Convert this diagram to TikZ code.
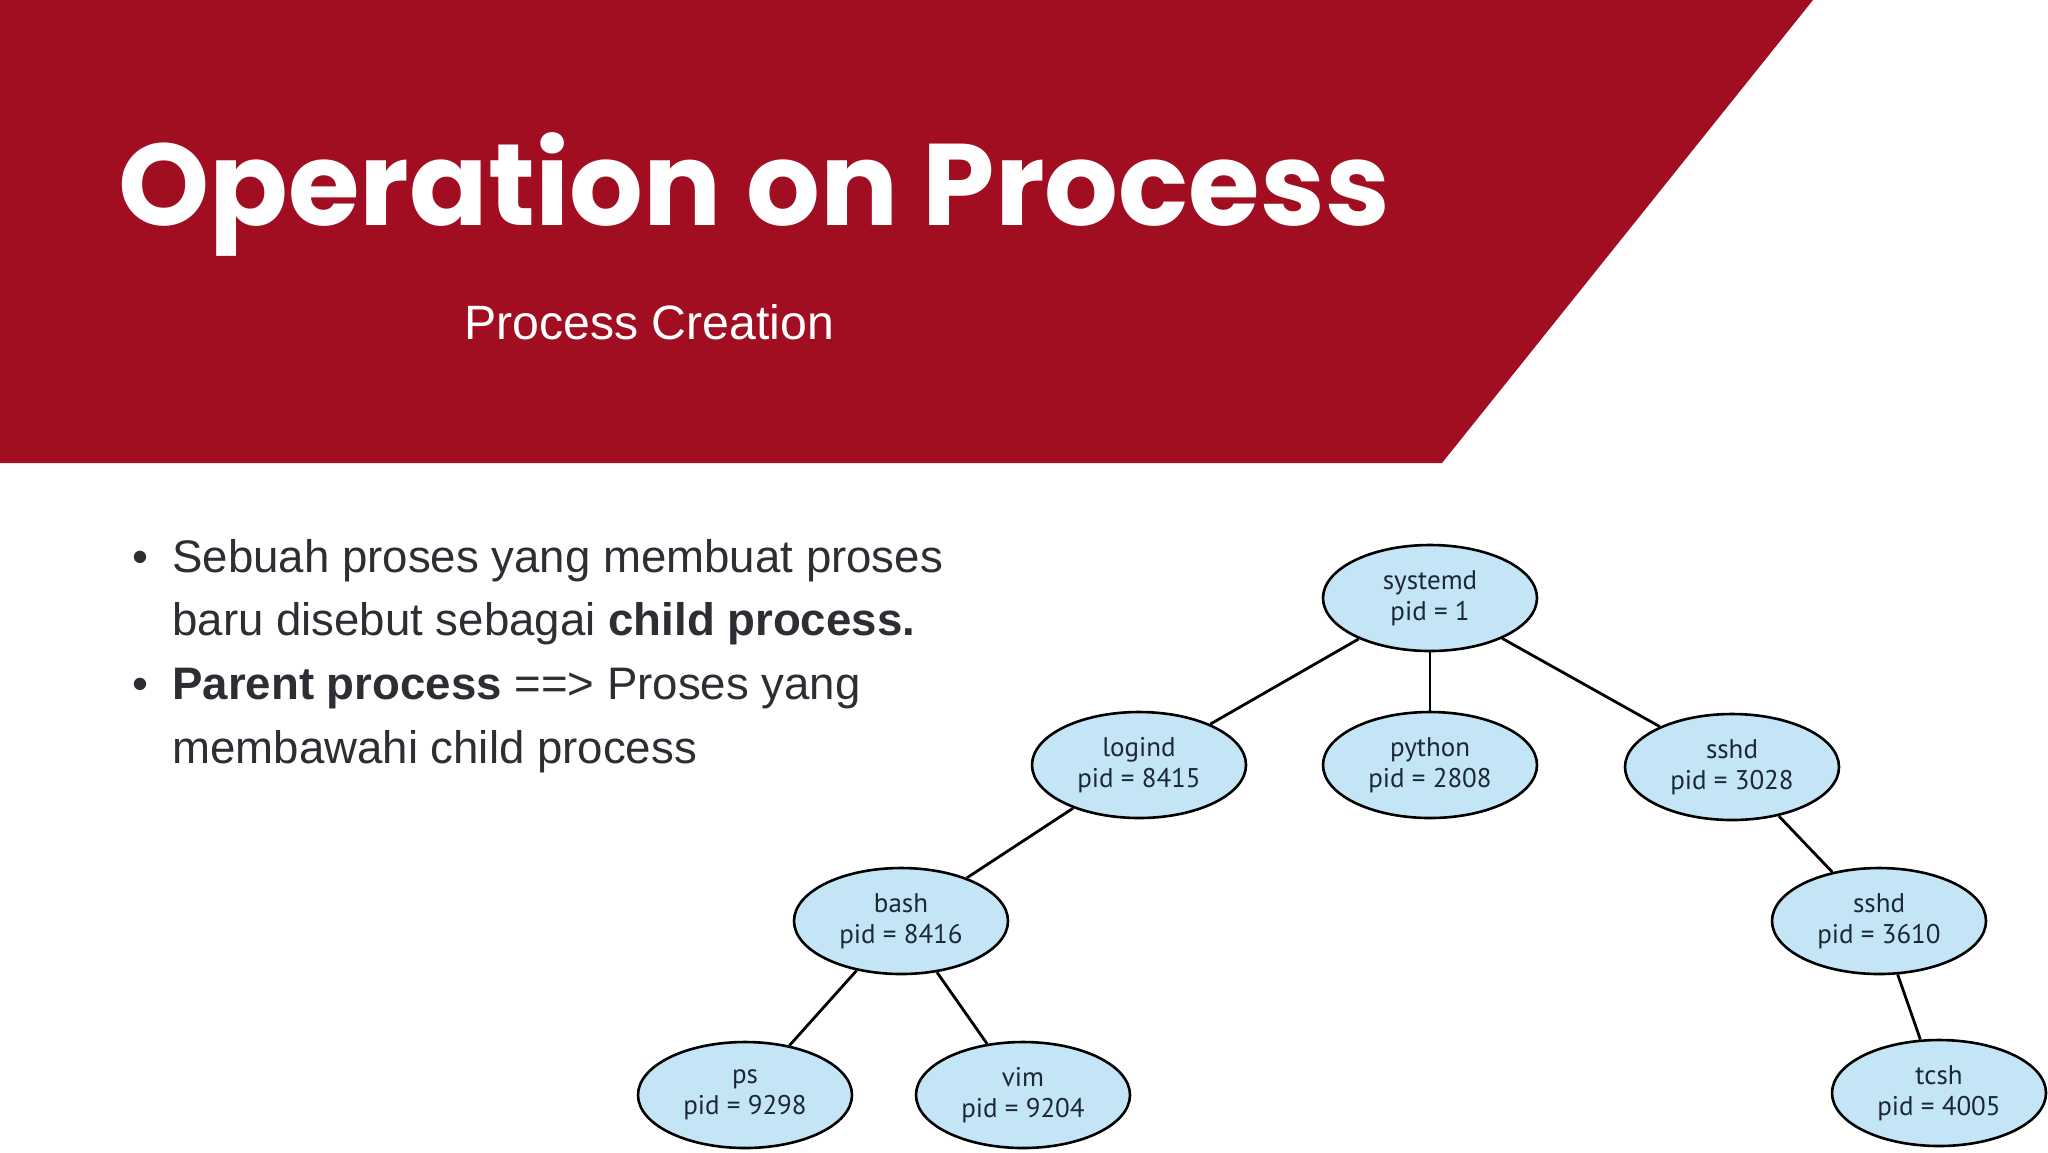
\documentclass[tikz,border=0pt]{standalone}
\usepackage{fontspec}
\setmainfont{Liberation Sans}
\newfontfamily\titlefont{Poppins}
\newfontfamily\nodefont{PT Sans}
\usetikzlibrary{shapes.geometric}
\definecolor{bannerred}{RGB}{161,14,34}
\definecolor{bodygray}{RGB}{45,45,52}
\definecolor{procblue}{RGB}{196,229,245}
\definecolor{proctext}{RGB}{28,40,52}
\tikzset{
  proc/.style={ellipse, draw=black, line width=1.3pt, fill=procblue,
    minimum width=107pt, minimum height=53pt, inner sep=0pt,
    align=center, text=proctext,
    font=\nodefont\fontsize{13.5}{15.5}\selectfont},
  link/.style={draw=black, line width=1.4pt},
  bodytext/.style={anchor=base west, inner sep=0pt, text=bodygray,
    font=\fontsize{22.8}{32}\selectfont}
}
\begin{document}
\begin{tikzpicture}[x=0.5pt,y=-0.5pt]
\useasboundingbox (0,0) rectangle (2048,1152);
\fill[white] (0,0) rectangle (2048,1152);
% banner
\fill[bannerred] (0,0) -- (1813,0) -- (1442,463) -- (0,463) -- cycle;
\node[anchor=base west, inner sep=0pt, text=white,
  font=\titlefont\bfseries\fontsize{58}{68}\selectfont] (title) at (118,225) {Operation on Process};
\node[anchor=base west, inner sep=0pt, text=white,
  font=\fontsize{24.1}{28}\selectfont] (subtitle) at (464,339) {Process Creation};
% bullets
\node[bodytext] (b1bullet) at (132,572) {\textbullet};
\node[bodytext] (l1) at (172,572) {Sebuah proses yang membuat proses};
\node[bodytext] (l2) at (172,635) {baru disebut sebagai \textbf{child process.}};
\node[bodytext] (b2bullet) at (132,699) {\textbullet};
\node[bodytext] (l3) at (172,699) {\textbf{Parent process} ==> Proses yang};
\node[bodytext] (l4) at (172,763) {membawahi child process};
% tree
\node[proc] (systemd) at (1430,598) {systemd\\pid = 1};
\node[proc] (logind) at (1139,765) {logind\\pid = 8415};
\node[proc] (python) at (1430,765) {python\\pid = 2808};
\node[proc] (sshd) at (1732,767) {sshd\\pid = 3028};
\node[proc] (bash) at (901,921) {bash\\pid = 8416};
\node[proc] (sshdb) at (1879,921) {sshd\\pid = 3610};
\node[proc] (ps) at (745,1095) {ps\\pid = 9298};
\node[proc] (vim) at (1023,1095) {vim\\pid = 9204};
\node[proc] (tcsh) at (1939,1093) {tcsh\\pid = 4005};
\draw[link] (systemd) -- (logind);
\draw[link] (systemd) -- (python);
\draw[link] (systemd) -- (sshd);
\draw[link] (logind) -- (bash);
\draw[link] (sshd) -- (sshdb);
\draw[link] (bash) -- (ps);
\draw[link] (bash) -- (vim);
\draw[link] (sshdb) -- (tcsh);
\end{tikzpicture}
\end{document}
